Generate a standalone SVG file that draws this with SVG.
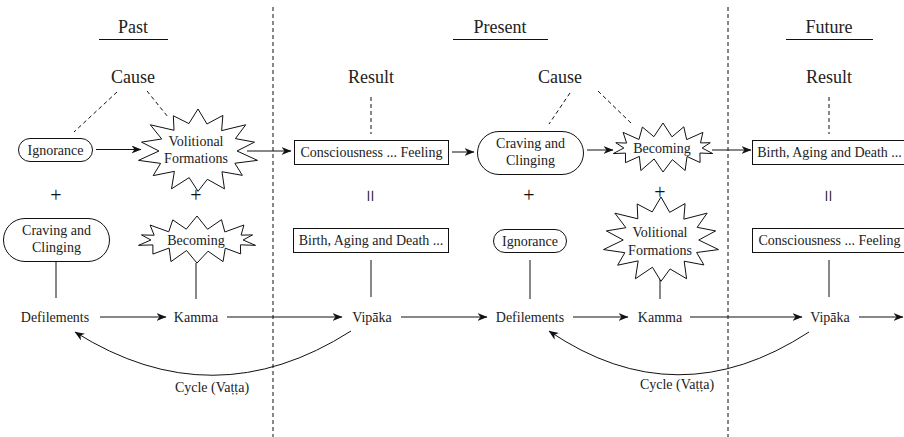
<svg xmlns="http://www.w3.org/2000/svg" xmlns:xlink="http://www.w3.org/1999/xlink" width="904" height="437" viewBox="0 0 904 437">
<style>
text{font-family:"Liberation Serif","DejaVu Serif",serif;font-size:14px;fill:#222;text-anchor:middle}
.h{font-size:18px}
.pm{font-size:20px;fill:#111}
.eq{font-size:22px;fill:#111}
.ln{stroke:#111;stroke-width:1;fill:none}
.ar{stroke:#111;stroke-width:1;fill:none;marker-end:url(#ah)}
.dl{stroke:#111;stroke-width:1;fill:none;stroke-dasharray:4 3}
.sh{fill:#fff;stroke:#111;stroke-width:1}
.bu{fill:#fff;stroke:#111;stroke-width:1;vector-effect:non-scaling-stroke}
</style>
<defs>
<marker id="ah" viewBox="0 0 10 8" refX="9.5" refY="4" markerWidth="10" markerHeight="8" markerUnits="userSpaceOnUse" orient="auto"><path d="M0,0 L10,4 L0,8 L3,4 z" fill="#111"/></marker>
<polygon id="burstR" class="bu" points="0,-1 .147,-.643 .408,-.847 .387,-.485 .782,-.624 .613,-.295 .926,-.211 .64,0 .975,.223 .604,.291 .727,.58 .393,.493 .434,.901 .154,.673 0,.96 -.145,.634 -.434,.901 -.387,.485 -.735,.586 -.613,.295 -.975,.223 -.64,0 -.926,-.211 -.595,-.286 -.782,-.624 -.393,-.493 -.404,-.838 -.149,-.653"/>
<polygon id="burstF" class="bu" points="0,-1 .176,-.446 .408,-.847 .464,-.335 .782,-.624 .735,-.204 .926,-.211 .768,0 .975,.223 .724,.201 .727,.58 .471,.341 .434,.901 .184,.466 0,.96 -.174,.439 -.434,.901 -.464,.335 -.735,.586 -.735,.204 -.975,.223 -.768,0 -.926,-.211 -.714,-.198 -.782,-.624 -.471,-.341 -.404,-.838 -.179,-.452"/>
</defs>

<g id="dividers">
<line class="dl" x1="273" y1="7" x2="273" y2="437"/>
<line class="dl" x1="728" y1="7" x2="728" y2="437"/>
</g>

<g id="headers">
<text class="h" x="133" y="33">Past</text>
<line class="ln" x1="99" y1="39.5" x2="168" y2="39.5"/>
<text class="h" x="500" y="33">Present</text>
<line class="ln" x1="453" y1="39.5" x2="548" y2="39.5"/>
<text class="h" x="829" y="33">Future</text>
<line class="ln" x1="786" y1="39.5" x2="873" y2="39.5"/>
<text class="h" x="133" y="83">Cause</text>
<text class="h" x="371" y="83">Result</text>
<text class="h" x="560" y="83">Cause</text>
<text class="h" x="829" y="83">Result</text>
</g>

<g id="connectors">
<line class="dl" x1="117" y1="92" x2="74" y2="132"/>
<line class="dl" x1="147" y1="91" x2="168" y2="117"/>
<line class="dl" x1="371" y1="97" x2="371" y2="134"/>
<line class="dl" x1="570" y1="93" x2="549" y2="124"/>
<line class="dl" x1="598" y1="91" x2="633" y2="125"/>
<line class="dl" x1="829" y1="97" x2="829" y2="134"/>
<line class="ar" x1="96" y1="149.5" x2="141" y2="149.5"/>
<line class="ar" x1="247" y1="151" x2="291" y2="151"/>
<line class="ar" x1="452" y1="152" x2="474" y2="152"/>
<line class="ar" x1="587" y1="150" x2="613" y2="150"/>
<line class="ar" x1="712" y1="150" x2="751" y2="150"/>
<line class="ln" x1="56" y1="262" x2="56" y2="298"/>
<line class="ln" x1="196" y1="263" x2="196" y2="299"/>
<line class="ln" x1="371" y1="260" x2="371" y2="297"/>
<line class="ln" x1="530" y1="260" x2="530" y2="299"/>
<line class="ln" x1="660" y1="276" x2="660" y2="299"/>
<line class="ln" x1="829" y1="260" x2="829" y2="297"/>
<line class="ar" x1="100" y1="317" x2="166" y2="317"/>
<line class="ar" x1="227" y1="317" x2="342" y2="317"/>
<line class="ar" x1="401" y1="317" x2="487" y2="317"/>
<line class="ar" x1="573" y1="317" x2="628" y2="317"/>
<line class="ar" x1="690" y1="317" x2="802" y2="317"/>
<line class="ar" x1="859" y1="317" x2="903" y2="317"/>
<path class="ar" d="M351,331 Q213,419 75,332"/>
<path class="ar" d="M809,332 Q677,418 549,331"/>
</g>

<g id="ignorance-past">
<rect class="sh" x="18.5" y="138.5" width="74" height="23" rx="11.5"/>
<text x="55.5" y="154.5">Ignorance</text>
</g>
<g id="volitional-past">
<use xlink:href="#burstR" transform="translate(198,151) scale(61,42)"/>
<text x="196" y="146">Volitional</text>
<text x="196" y="163">Formations</text>
</g>
<g id="consciousness-present">
<rect class="sh" x="294.5" y="140.5" width="154" height="24"/>
<text x="371.5" y="157">Consciousness ... Feeling</text>
</g>
<g id="craving-present">
<rect class="sh" x="477.5" y="131.5" width="106" height="43" rx="21.5"/>
<text x="530.5" y="148">Craving and</text>
<text x="530.5" y="165">Clinging</text>
</g>
<g id="becoming-present">
<use xlink:href="#burstF" transform="translate(663,148) scale(51,25)"/>
<text x="662" y="153">Becoming</text>
</g>
<g id="birth-future">
<rect class="sh" x="752.5" y="140.5" width="154" height="24"/>
<text x="829.5" y="157">Birth, Aging and Death ...</text>
</g>

<g id="signs">
<text class="pm" x="56" y="202">+</text>
<text class="pm" x="196" y="202">+</text>
<text class="eq" transform="translate(370,196) rotate(90)" dominant-baseline="central">=</text>
<text class="pm" x="529" y="202">+</text>
<text class="pm" x="660" y="199">+</text>
<text class="eq" transform="translate(828,196) rotate(90)" dominant-baseline="central">=</text>
</g>

<g id="craving-past">
<rect class="sh" x="3.5" y="218.5" width="106" height="43" rx="21.5"/>
<text x="56.5" y="235">Craving and</text>
<text x="56.5" y="252">Clinging</text>
</g>
<g id="becoming-past">
<use xlink:href="#burstF" transform="translate(197,240) scale(60,24)"/>
<text x="196" y="245">Becoming</text>
</g>
<g id="birth-present">
<rect class="sh" x="293.5" y="228.5" width="155" height="24"/>
<text x="371" y="245">Birth, Aging and Death ...</text>
</g>
<g id="ignorance-present">
<rect class="sh" x="493.5" y="229.5" width="73" height="23" rx="11.5"/>
<text x="530" y="245.5">Ignorance</text>
</g>
<g id="volitional-present">
<use xlink:href="#burstR" transform="translate(661,240) scale(59,43)"/>
<text x="660" y="237">Volitional</text>
<text x="660" y="255">Formations</text>
</g>
<g id="consciousness-future">
<rect class="sh" x="752.5" y="228.5" width="154" height="24"/>
<text x="829.5" y="245">Consciousness ... Feeling</text>
</g>

<g id="defilements-past"><text x="55" y="321.5">Defilements</text></g>
<g id="kamma-past"><text x="196" y="321.5">Kamma</text></g>
<g id="vipaka-present"><text x="372" y="321.5">Vipāka</text></g>
<g id="defilements-present"><text x="530" y="321.5">Defilements</text></g>
<g id="kamma-present"><text x="660" y="321.5">Kamma</text></g>
<g id="vipaka-future"><text x="830" y="321.5">Vipāka</text></g>
<g id="cycle-labels">
<text x="212" y="392">Cycle (Vaṭṭa)</text>
<text x="677" y="389">Cycle (Vaṭṭa)</text>
</g>
</svg>
